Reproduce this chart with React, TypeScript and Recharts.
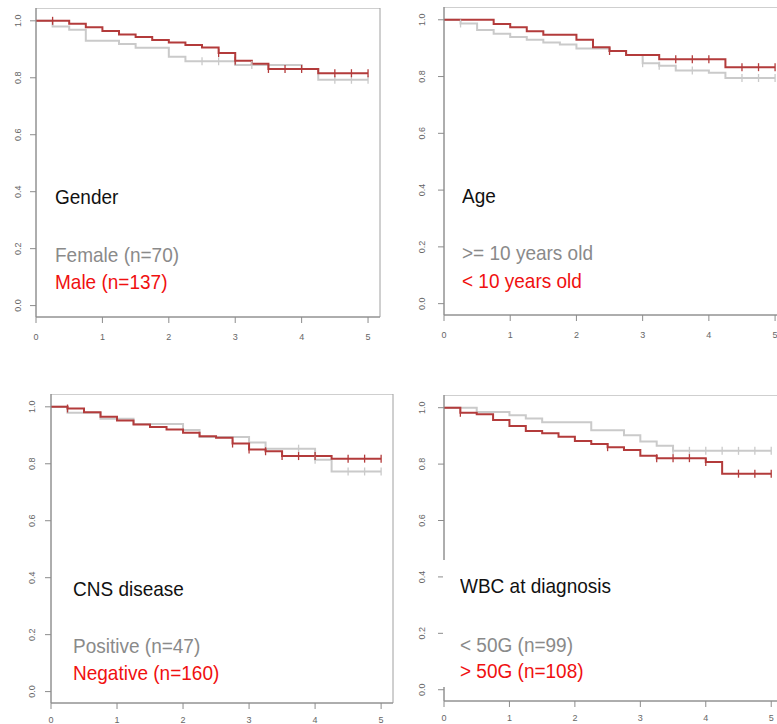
import { ComposedChart, Line, Scatter, XAxis, YAxis, ReferenceArea } from 'recharts';

// Kaplan-Meier steps (time in years, survival)
const genderFemaleT = [0, 0.25, 0.5, 0.75, 1.25, 1.5, 2.0, 2.25, 3.0, 4.0, 4.25, 5.0];
const genderFemaleS = [1.0, 0.98, 0.969, 0.93, 0.919, 0.905, 0.874, 0.858, 0.845, 0.831, 0.793, 0.793];
const genderFemaleCens = [2.5, 2.75, 3.25, 4.5, 4.75, 5.0];
const genderMaleT = [0, 0.5, 0.75, 1.0, 1.25, 1.5, 1.75, 2.0, 2.25, 2.5, 2.75, 3.0, 3.25, 3.5, 4.25, 5.0];
const genderMaleS = [1.0, 0.99, 0.977, 0.964, 0.952, 0.943, 0.933, 0.924, 0.915, 0.906, 0.887, 0.86, 0.849, 0.831, 0.816, 0.816];
const genderMaleCens = [0.25, 2.75, 3.0, 3.5, 3.75, 4.0, 4.5, 4.75, 5.0];

const ageOldT = [0, 0.25, 0.5, 0.75, 1.0, 1.25, 1.5, 1.75, 2.0, 2.5, 2.75, 3.0, 3.25, 3.5, 4.0, 4.25, 5.0];
const ageOldS = [1.0, 0.987, 0.964, 0.951, 0.939, 0.93, 0.92, 0.913, 0.899, 0.89, 0.876, 0.847, 0.838, 0.821, 0.813, 0.795, 0.795];
const ageOldCens = [0.25, 3.0, 3.25, 3.75, 4.5, 4.75, 5.0];
const ageYoungT = [0, 0.75, 1.0, 1.25, 1.5, 2.0, 2.25, 2.5, 2.75, 3.25, 4.25, 5.0];
const ageYoungS = [1.0, 0.985, 0.974, 0.96, 0.947, 0.93, 0.903, 0.89, 0.876, 0.861, 0.833, 0.833];
const ageYoungCens = [2.5, 3.5, 3.75, 4.0, 4.5, 4.75, 5.0];

const cnsPosT = [0, 0.25, 0.75, 1.25, 2.0, 2.25, 3.0, 3.25, 4.0, 4.25, 5.0];
const cnsPosS = [1.0, 0.979, 0.958, 0.94, 0.919, 0.894, 0.875, 0.853, 0.814, 0.773, 0.773];
const cnsPosCens = [3.75, 4.0, 4.5, 4.75, 5.0];
const cnsNegT = [0, 0.25, 0.5, 0.75, 1.0, 1.25, 1.5, 1.75, 2.0, 2.25, 2.5, 2.75, 3.0, 3.25, 3.5, 4.25, 5.0];
const cnsNegS = [1.0, 0.994, 0.981, 0.965, 0.952, 0.938, 0.929, 0.92, 0.909, 0.897, 0.891, 0.871, 0.85, 0.844, 0.827, 0.818, 0.818];
const cnsNegCens = [0.25, 2.75, 3.0, 3.25, 3.5, 3.75, 4.0, 4.5, 4.75, 5.0];

const wbcLowT = [0, 0.5, 1.0, 1.25, 1.5, 2.25, 2.75, 3.0, 3.25, 3.5, 5.0];
const wbcLowS = [1.0, 0.985, 0.973, 0.962, 0.948, 0.92, 0.902, 0.88, 0.865, 0.847, 0.847];
const wbcLowCens = [3.5, 3.75, 4.0, 4.25, 4.5, 4.75, 5.0];
const wbcHighT = [0, 0.25, 0.5, 0.75, 1.0, 1.25, 1.5, 1.75, 2.0, 2.25, 2.5, 2.75, 3.0, 3.25, 4.0, 4.25, 5.0];
const wbcHighS = [1.0, 0.982, 0.977, 0.956, 0.935, 0.917, 0.909, 0.897, 0.882, 0.871, 0.86, 0.85, 0.83, 0.821, 0.807, 0.766, 0.766];
const wbcHighCens = [0.25, 2.5, 3.25, 3.5, 3.75, 4.0, 4.5, 4.75, 5.0];

const xTicks = [0, 1, 2, 3, 4, 5];
const yTicks = [0, 0.2, 0.4, 0.6, 0.8, 1.0];

const X_DOMAIN = [0, 5.18];
const Y_DOMAIN = [-0.04, 1.045];
const Y_AXIS_W = 40;
const X_AXIS_H = 30;
const RED = '#b33b3b';
const GREY = '#cacaca';
const AXIS = '#8c8c8c';
const FONT = '"Liberation Sans", Arial, sans-serif';

const rows = (t: number[], s: number[]) => t.map((v, i) => ({ t: v, s: s[i] }));

// survival value of the curve at time t (for placing the censor marks)
const atTime = (t: number[], s: number[], when: number[]) =>
  when.map((w) => {
    let k = 0;
    for (let i = 0; i < t.length; i++) if (t[i] <= w + 1e-9) k = i;
    return { t: w, s: s[k] };
  });

const CensorMark = (color: string) => (props: any) => {
  const { cx, cy } = props;
  return <line x1={cx} x2={cx} y1={cy - 4} y2={cy + 4} stroke={color} strokeWidth={1.3} />;
};

const YTick = (margin: number) => (props: any) => {
  const { x, y, payload } = props;
  const bx = x - margin;
  return (
    <text x={bx} y={y} transform={`rotate(-90 ${bx} ${y})`} textAnchor="middle" fontSize={9} fill="#666" fontFamily={FONT}>
      {Number(payload.value).toFixed(1)}
    </text>
  );
};

type Panel = {
  left: number;
  top: number;
  plotW: number;
  plotH: number;
  yMargin: number;
  xMargin: number;
  grey: { t: number[]; s: number[]; c: number[] };
  red: { t: number[]; s: number[]; c: number[] };
  title: string;
  greyLabel: string;
  redLabel: string;
  textX: number;
  baselines: number[];
};

const panels: Panel[] = [
  {
    left: 36, top: 8, plotW: 344, plotH: 309, yMargin: 7, xMargin: 11,
    grey: { t: genderFemaleT, s: genderFemaleS, c: genderFemaleCens },
    red: { t: genderMaleT, s: genderMaleS, c: genderMaleCens },
    title: 'Gender', greyLabel: 'Female (n=70)', redLabel: 'Male (n=137)',
    textX: 55, baselines: [204, 262, 289],
  },
  {
    left: 444, top: 7, plotW: 343, plotH: 308, yMargin: 11, xMargin: 11,
    grey: { t: ageOldT, s: ageOldS, c: ageOldCens },
    red: { t: ageYoungT, s: ageYoungS, c: ageYoungCens },
    title: 'Age', greyLabel: '>= 10 years old', redLabel: '< 10 years old',
    textX: 462, baselines: [203, 260, 288],
  },
  {
    left: 51, top: 394, plotW: 342, plotH: 309, yMargin: 8, xMargin: 8,
    grey: { t: cnsPosT, s: cnsPosS, c: cnsPosCens },
    red: { t: cnsNegT, s: cnsNegS, c: cnsNegCens },
    title: 'CNS disease', greyLabel: 'Positive (n=47)', redLabel: 'Negative (n=160)',
    textX: 73, baselines: [596, 653, 680],
  },
  {
    left: 444, top: 395, plotW: 339, plotH: 306, yMargin: 11, xMargin: 8,
    grey: { t: wbcLowT, s: wbcLowS, c: wbcLowCens },
    red: { t: wbcHighT, s: wbcHighS, c: wbcHighCens },
    title: 'WBC at diagnosis', greyLabel: '< 50G (n=99)', redLabel: '> 50G (n=108)',
    textX: 460, baselines: [593, 652, 678],
  },
];

function KmPanel({ p }: { p: Panel }) {
  const greyRows = rows(p.grey.t, p.grey.s);
  const redRows = rows(p.red.t, p.red.s);
  return (
    <div style={{ position: 'absolute', left: p.left - Y_AXIS_W, top: p.top }}>
      <ComposedChart
        width={Y_AXIS_W + p.plotW + 2}
        height={p.plotH + X_AXIS_H}
        margin={{ top: 0, right: 2, left: 0, bottom: 0 }}
      >
        <XAxis
          dataKey="t"
          type="number"
          domain={X_DOMAIN}
          allowDataOverflow
          ticks={xTicks}
          height={X_AXIS_H}
          tickSize={6}
          tickMargin={p.xMargin}
          stroke={AXIS}
          tick={{ fontSize: 9, fill: '#666', fontFamily: FONT }}
        />
        <YAxis
          dataKey="s"
          type="number"
          domain={Y_DOMAIN}
          allowDataOverflow
          ticks={yTicks}
          width={Y_AXIS_W}
          tickSize={6}
          stroke={AXIS}
          tick={YTick(p.yMargin)}
        />
        <ReferenceArea
          x1={X_DOMAIN[0]}
          x2={X_DOMAIN[1]}
          y1={Y_DOMAIN[0]}
          y2={Y_DOMAIN[1]}
          fill="none"
          stroke="#a0a0a0"
          strokeWidth={1}
          ifOverflow="visible"
        />
        <Line data={greyRows} dataKey="s" type="stepAfter" stroke={GREY} strokeWidth={2} dot={false} isAnimationActive={false} />
        <Scatter data={atTime(p.grey.t, p.grey.s, p.grey.c)} dataKey="s" shape={CensorMark(GREY)} isAnimationActive={false} />
        <Line data={redRows} dataKey="s" type="stepAfter" stroke={RED} strokeWidth={2} dot={false} isAnimationActive={false} />
        <Scatter data={atTime(p.red.t, p.red.s, p.red.c)} dataKey="s" shape={CensorMark(RED)} isAnimationActive={false} />
      </ComposedChart>
    </div>
  );
}

// the panel labels in the picture are a little taller than plain Arial
const labelStyle = (x: number, baseline: number, color: string): React.CSSProperties => ({
  position: 'absolute',
  left: x,
  top: baseline - 16,
  fontSize: 19,
  lineHeight: '19px',
  fontFamily: FONT,
  color,
  whiteSpace: 'nowrap',
  transform: 'scaleY(1.1)',
  transformOrigin: '0 16px',
});

export default function App() {
  return (
    <div style={{ position: 'absolute', left: 0, top: 0, width: 777, height: 724, overflow: 'hidden', background: '#fff' }}>
      {panels.map((p, i) => (
        <KmPanel key={i} p={p} />
      ))}
      {/* legend box in the WBC panel hides part of its left axis */}
      <div style={{ position: 'absolute', left: 443, top: 560, width: 3, height: 127, background: '#fff' }} />
      {panels.map((p, i) => (
        <div key={'t' + i}>
          <div style={labelStyle(p.textX, p.baselines[0], '#111')}>{p.title}</div>
          <div style={labelStyle(p.textX, p.baselines[1], '#8a8a8a')}>{p.greyLabel}</div>
          <div style={labelStyle(p.textX, p.baselines[2], '#f01010')}>{p.redLabel}</div>
        </div>
      ))}
    </div>
  );
}
